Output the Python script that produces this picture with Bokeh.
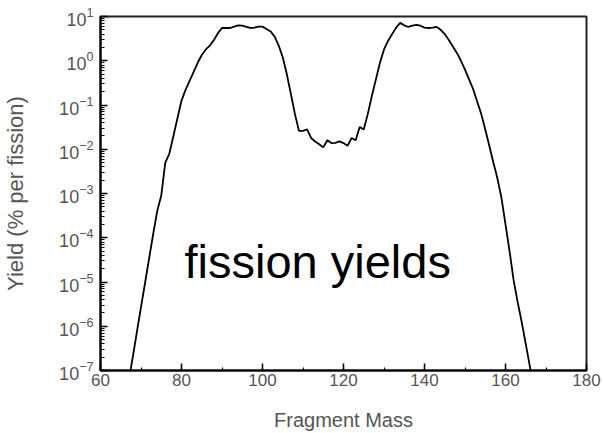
from bokeh.plotting import figure
from bokeh.models import Range1d, LogTicker, SingleIntervalTicker, Label, ColumnDataSource
from bokeh.embed import file_html
from bokeh.resources import INLINE

mass = list(range(67, 168))
yield_pct = [
    6e-8, 2.1e-7, 7.6e-7, 2.7e-6, 9.5e-6, 3.4e-5, 1.2e-4, 4e-4, 9e-4, 5e-3,   # 67-76
    8e-3, 0.02, 0.05, 0.126, 0.22, 0.35, 0.56, 0.9, 1.35, 1.8,              # 77-86
    2.2, 2.95, 4.2, 5.5, 5.5, 5.5, 5.9, 6.3, 6.2, 5.8,                      # 87-96
    5.5, 5.6, 5.9, 5.9, 5.2, 4.6, 3.5, 2.2, 1.2, 0.5,                       # 97-106
    0.18, 0.063, 0.026, 0.026, 0.028, 0.018, 0.015, 0.013, 0.011, 0.016,    # 107-116
    0.0138, 0.014, 0.015, 0.0138, 0.012, 0.018, 0.016, 0.032, 0.028, 0.063, # 117-126
    0.16, 0.38, 0.9, 1.8, 2.8, 4.0, 5.6, 7.2, 6.3, 5.8,                     # 127-136
    6.2, 6.5, 6.2, 5.6, 5.5, 5.6, 5.8, 5.0, 4.0, 2.95,                      # 137-146
    2.1, 1.5, 1.0, 0.63, 0.38, 0.23, 0.12, 0.063, 0.028, 0.012,             # 147-156
    5e-3, 2.2e-3, 8e-4, 2e-4, 5e-5, 1.1e-5, 3.5e-6, 1.25e-6, 4e-7, 1.25e-7, # 157-166
    4e-8,                                                                   # 167
]
x_label = "Fragment Mass"
y_label = "Yield (% per fission)"
annotation = "fission yields"

src = ColumnDataSource(dict(mass=mass, yld=yield_pct))

p = figure(width=603, height=433, output_backend="svg", toolbar_location=None,
           y_axis_type="log",
           x_range=Range1d(60, 180), y_range=Range1d(1e-7, 10),
           min_border_left=99, min_border_right=17, min_border_top=16, min_border_bottom=63)
p.grid.visible = False
p.outline_line_color = "#222222"
p.outline_line_width = 2
p.background_fill_color = "white"
p.border_fill_color = "white"

p.line("mass", "yld", source=src, line_color="black", line_width=1.8)

gray = "#555555"
font = "Liberation Sans"

xa = p.xaxis[0]
xa.ticker = SingleIntervalTicker(interval=20, num_minor_ticks=2)
xa.axis_label = x_label
ya = p.yaxis[0]
ya.ticker = LogTicker(desired_num_ticks=9, num_minor_ticks=10)
ya.axis_label = y_label

for ax in (xa, ya):
    ax.axis_line_color = "black"
    ax.axis_line_width = 2
    ax.major_tick_in = 7
    ax.major_tick_out = 0
    ax.minor_tick_in = 4
    ax.minor_tick_out = 0
    ax.major_tick_line_width = 1.5
    ax.minor_tick_line_width = 1.2
    ax.major_label_text_color = gray
    ax.major_label_text_font = font
    ax.axis_label_text_color = gray
    ax.axis_label_text_font = font
    ax.axis_label_text_font_style = "normal"

xa.minor_tick_in = 3
xa.major_label_text_font_size = "17px"
xa.major_label_standoff = 3
xa.axis_label_text_font_size = "20px"
xa.axis_label_standoff = 20
ya.major_label_text_font_size = "18px"
ya.major_label_standoff = 7
ya.axis_label_text_font_size = "22px"
ya.axis_label_standoff = 28

p.add_layout(Label(x=84, y=109, x_units="screen", y_units="screen", text=annotation,
                   text_font=font, text_font_size="47px", text_color="black",
                   text_baseline="alphabetic"))

open("out.html", "w").write(file_html(p, INLINE))
